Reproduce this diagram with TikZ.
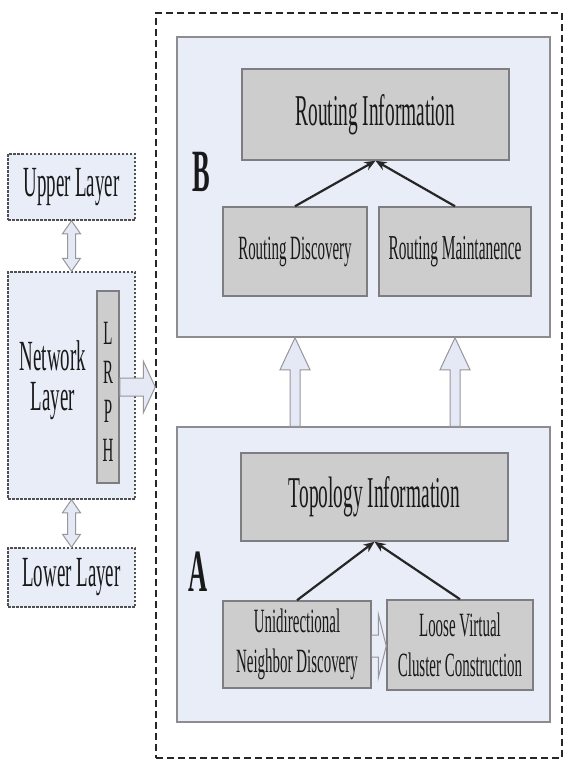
\documentclass[tikz,border=0pt]{standalone}
\usepackage{fontspec}
\setmainfont{Liberation Serif}[FakeStretch=0.44]
\usetikzlibrary{arrows.meta,calc}
\definecolor{lightfill}{RGB}{232,237,248}
\definecolor{panelborder}{RGB}{140,140,145}
\definecolor{gfill}{RGB}{205,205,205}
\definecolor{gborder}{RGB}{125,125,130}
\definecolor{dashgray}{RGB}{80,80,80}
\definecolor{arrowgray}{RGB}{150,150,155}
\definecolor{arrowfill}{RGB}{228,233,245}
\definecolor{txt}{RGB}{25,25,25}
\tikzset{
  panel/.style={draw=panelborder, fill=lightfill, line width=1.5pt, inner sep=0pt},
  gbox/.style={draw=gborder, fill=gfill, line width=1.5pt, align=center, text=txt, inner sep=0pt},
  layerbox/.style={draw=dashgray, fill=lightfill, line width=1.5pt, dash pattern=on 2.5pt off 1.5pt, inner sep=0pt, text=txt},
  outerbox/.style={draw=black!85, line width=1.5pt, dash pattern=on 7pt off 4pt},
  hollow/.style={draw=arrowgray, fill=arrowfill, line width=1pt, line join=miter},
  conn/.style={-{Stealth[length=11pt,width=9pt]}, line width=2.2pt, draw=black!85},
  bigtxt/.style={font=\fontsize{44}{46}\selectfont},
  midtxt/.style={font=\fontsize{43}{40}\selectfont},
  smalltxt/.style={font=\fontsize{34}{40}\selectfont},
  labeltxt/.style={font=\bfseries\fontsize{60}{62}\selectfont, text=black!90, inner sep=0pt}
}
\begin{document}
\begin{tikzpicture}[x=1pt,y=-1pt]
\useasboundingbox (0,0) rectangle (567,761);
% outer dashed frame
\node[outerbox, minimum width=406pt, minimum height=745pt, inner sep=0pt] (outer) at (359,385.5) {};
% panels
\node[panel, minimum width=373pt, minimum height=300pt] (B) at (363.5,187) {};
\node[panel, minimum width=373pt, minimum height=295pt] (A) at (363.5,574.5) {};
% B content
\node[gbox, bigtxt, minimum width=267pt, minimum height=91pt] (RI) at (375.5,114.5) {Routing Information};
\node[gbox, font=\fontsize{34}{40}\selectfont, minimum width=144pt, minimum height=89pt] (RD) at (295,251.5) {Routing Discovery};
\node[gbox, font=\fontsize{35}{40}\selectfont, minimum width=152pt, minimum height=89pt] (RM) at (455,251.5) {Routing Maintanence};
\node[labeltxt] (Blab) at (201,172) {B};
% A content
\node[gbox, bigtxt, minimum width=267pt, minimum height=88pt] (TI) at (374.5,497) {Topology Information};
\node[gbox, smalltxt, minimum width=148pt, minimum height=87pt] (UND) at (297,644.5) {Unidirectional\\Neighbor Discovery};
\node[gbox, smalltxt, minimum width=146pt, minimum height=90pt] (LVCC) at (460,645) {Loose Virtual\\Cluster Construction};
\node[labeltxt] (Alab) at (198,572) {A};
% black arrows
\draw[conn] (RD.north) -- (RI.south);
\draw[conn] (RM.north) -- (RI.south);
\draw[conn] (UND.north) -- (TI.south);
\draw[conn] (LVCC.north) -- (TI.south);
% small hollow arrow between UND and LVCC
\coordinate (s1) at (UND.east |- 0,646);
\coordinate (t1) at (LVCC.west |- 0,646);
\draw[draw=arrowgray, fill=lightfill, line width=1pt]
  ([yshift=11pt]s1) -- ([xshift=-8pt,yshift=11pt]t1) -- ([xshift=-8pt,yshift=32pt]t1) -- (t1)
  -- ([xshift=-8pt,yshift=-32pt]t1) -- ([xshift=-8pt,yshift=-11pt]t1) -- ([yshift=-11pt]s1);
% hollow up arrows A -> B
\coordinate (ab1) at (RD.south |- A.north);
\coordinate (tb1) at (RD.south |- B.south);
\coordinate (ab2) at (RM.south |- A.north);
\coordinate (tb2) at (RM.south |- B.south);
\foreach \a/\t in {ab1/tb1, ab2/tb2}{
  \draw[hollow] ([xshift=-5pt]\a) -- ([xshift=-5pt,yshift=-32pt]\t) -- ([xshift=-15pt,yshift=-32pt]\t) -- (\t)
    -- ([xshift=15pt,yshift=-32pt]\t) -- ([xshift=5pt,yshift=-32pt]\t) -- ([xshift=5pt]\a) -- cycle;
}
% left column
\node[layerbox, midtxt, minimum width=127pt, minimum height=66pt] (UL) at (71.5,187) {Upper Layer};
\node[layerbox, minimum width=127pt, minimum height=227pt] (NL) at (71.5,385.5) {};
\node[midtxt, align=center, text=txt, inner sep=0pt] (NLt) at (53,380) {Network\\Layer};
\node[layerbox, midtxt, minimum width=127pt, minimum height=59pt] (LL) at (71.5,577.5) {Lower Layer};
\node[gbox, minimum width=22pt, minimum height=192pt] (LRPH) at (108,387) {};
\node[font=\fontsize{34}{39}\selectfont, align=center, text=txt, inner sep=0pt] (LRPHt) at (108,392) {L\\R\\P\\H};
% double arrows between layers
\foreach \u/\l in {UL/NL, NL/LL}{
  \draw[hollow] let \p1=(\u.south), \p2=(\l.north) in
    (\x1,\y1) -- (\x1+9,\y1-13) -- (\x1+4,\y1-13) -- (\x2+4,\y2+13) -- (\x2+9,\y2+13) -- (\x2,\y2)
    -- (\x2-9,\y2+13) -- (\x2-4,\y2+13) -- (\x1-4,\y1-13) -- (\x1-9,\y1-13) -- cycle;
}
% right arrow LRPH -> frame
\coordinate (r1) at (LRPH.east);
\coordinate (r2) at (outer.west |- LRPH.east);
\draw[hollow] ([yshift=9pt]r1) -- ([xshift=-12pt,yshift=9pt]r2) -- ([xshift=-12pt,yshift=26pt]r2) -- (r2)
  -- ([xshift=-12pt,yshift=-26pt]r2) -- ([xshift=-12pt,yshift=-9pt]r2) -- ([yshift=-9pt]r1) -- cycle;
\end{tikzpicture}
\end{document}
